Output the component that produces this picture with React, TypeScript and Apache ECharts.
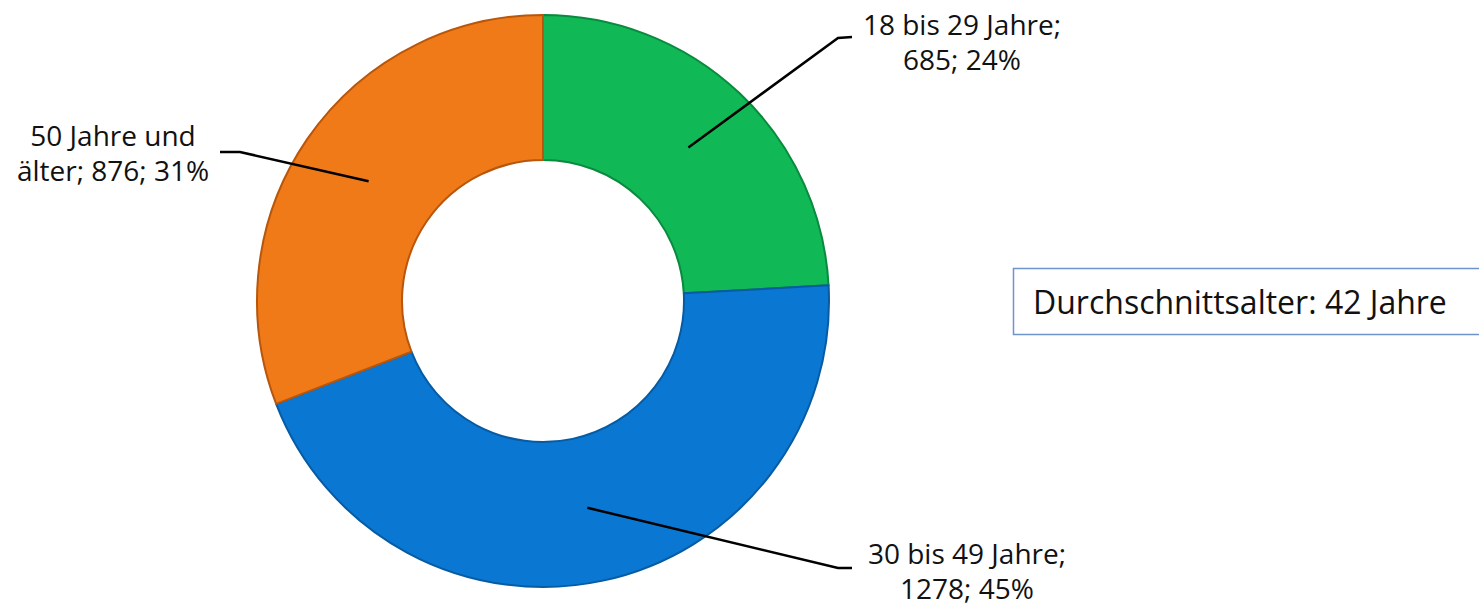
import React, { useEffect, useRef } from "react";
import * as echarts from "echarts";

const categories = ["18 bis 29 Jahre", "30 bis 49 Jahre", "50 Jahre und\nälter"];
const values = [685, 1278, 876];
const colors = ["#10B955", "#0A78D2", "#F07A17"];
const borderColors = ["#0A8A3E", "#075BA3", "#B8560C"];
const infoText = "Durchschnittsalter: 42 Jahre";

// label placement (pixel anchors of the label text) and elbow points of the leader lines
const labelAnchors: [number, number][] = [
  [962, 41],
  [967, 570],
  [113, 152],
];
const elbowPoints: [number, number][][] = [
  [[838, 38], [852, 37]],
  [[838, 568], [852, 568]],
  [[240, 152], [220, 152]],
];

const CX = 543;
const CY = 301;
const R_IN = 141;
const R_OUT = 286;
const FONT = "'Open Sans', Lato, sans-serif";

export default function App() {
  const ref = useRef<HTMLDivElement>(null);
  useEffect(() => {
    if (!ref.current) return;
    const chart = echarts.init(ref.current, undefined, { renderer: "svg" });
    const total = values.reduce((a, b) => a + b, 0);
    const mids: number[] = [];
    let acc = 0;
    values.forEach((v) => {
      mids.push(((acc + v / 2) / total) * Math.PI * 2);
      acc += v;
    });
    const rMid = (R_IN + R_OUT) / 2 - 2;
    const base = {
      type: "pie",
      center: [CX, CY],
      radius: [R_IN, R_OUT],
      startAngle: 90,
      clockwise: true,
      emphasis: { disabled: true },
      silent: true,
    };
    chart.setOption({
      animation: false,
      backgroundColor: "#ffffff",
      series: [
        {
          ...base,
          z: 2,
          data: categories.map((name, i) => ({
            name,
            value: values[i],
            itemStyle: {
              color: colors[i],
              borderColor: borderColors[i],
              borderWidth: 2,
            },
          })),
          label: { show: false },
          labelLine: { show: false },
        },
        {
          ...base,
          z: 3,
          data: categories.map((name, i) => ({
            name,
            value: values[i],
            itemStyle: { color: "rgba(0,0,0,0)", borderWidth: 0 },
          })),
          label: {
            show: true,
            color: "#111111",
            fontFamily: FONT,
            fontSize: 28,
            lineHeight: 35,
            align: "center",
            formatter: (p: any) => {
              const pct = Math.round((p.value / total) * 100);
              return p.name.includes("\n")
                ? `${p.name}; ${p.value}; ${pct}%`
                : `${p.name};\n${p.value}; ${pct}%`;
            },
          },
          labelLine: {
            show: true,
            lineStyle: { color: "#000000", width: 2.5 },
          },
          labelLayout: (params: any) => {
            const i = params.dataIndex;
            const a = mids[i];
            const sx = CX + rMid * Math.sin(a);
            const sy = CY - rMid * Math.cos(a);
            return {
              x: labelAnchors[i][0],
              y: labelAnchors[i][1],
              align: "center",
              verticalAlign: "middle",
              labelLinePoints: [[sx, sy], elbowPoints[i][0], elbowPoints[i][1]],
            };
          },
        },
      ],
      graphic: [
        {
          type: "rect",
          shape: { x: 1013.5, y: 268.5, width: 480, height: 66 },
          style: { fill: "#ffffff", stroke: "#6F93CC", lineWidth: 1.5 },
        },
        {
          type: "text",
          x: 1033,
          y: 301,
          style: {
            text: infoText,
            fontFamily: FONT,
            fontSize: 32,
            fill: "#111111",
            verticalAlign: "middle",
          },
        },
      ],
    });
    return () => chart.dispose();
  }, []);
  return (
    <div
      ref={ref}
      style={{ position: "absolute", left: 0, top: 0, width: 1479, height: 605 }}
    />
  );
}
